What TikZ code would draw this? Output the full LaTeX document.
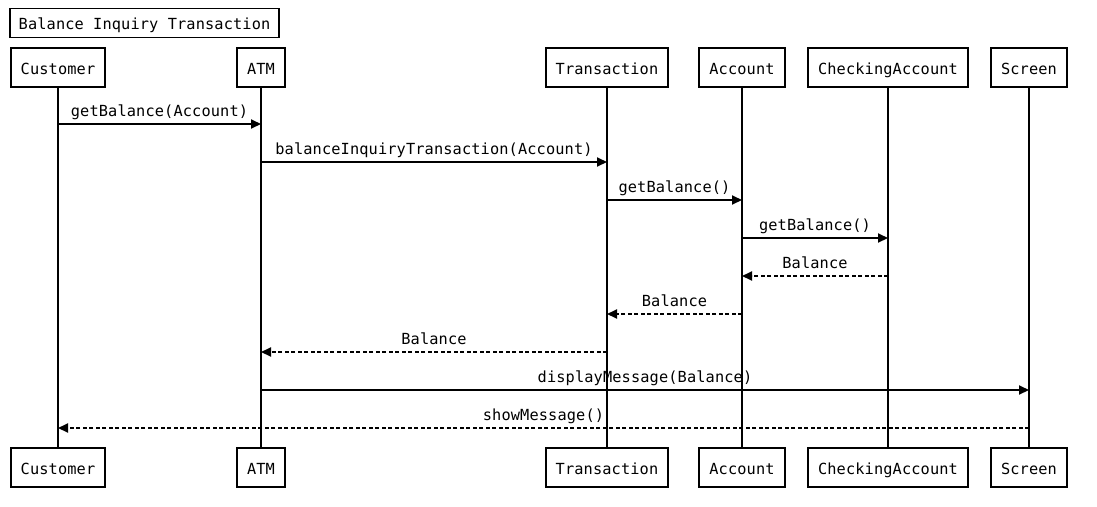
\documentclass[tikz,border=0pt]{standalone}
\usepackage{fontspec}
\newfontfamily\dmono{DejaVu Sans Mono}[LetterSpace=0.8]
\usetikzlibrary{arrows.meta}
\begin{document}
\begin{tikzpicture}[x=1pt,y=-1pt,
  font=\dmono\fontsize{15.3}{18}\selectfont,
  part/.style={draw, line width=2pt, minimum height=39pt, inner xsep=10pt, inner ysep=0pt, text height=14pt, text depth=0pt, fill=white},
  life/.style={line width=2pt},
  msg/.style={line width=2pt, -{Triangle[length=10pt,width=9pt]}},
  ret/.style={msg, dash pattern=on 4pt off 2.5pt},
  lbl/.style={above=4pt, inner sep=0pt, text height=11pt, text depth=3pt}]
\useasboundingbox (0,0) rectangle (1097,506);
\node[draw, line width=1.8pt, minimum width=269pt, minimum height=29pt, inner sep=0pt, text height=13pt, text depth=1pt] (title) at (144.5,23) {Balance Inquiry Transaction};
% top participants
\node[part] (cu) at (58,67) {Customer};
\node[part] (atm) at (261,67) {ATM};
\node[part] (tr) at (607,67) {Transaction};
\node[part] (ac) at (742,67) {Account};
\node[part] (ca) at (888,67) {CheckingAccount};
\node[part] (sc) at (1029,67) {Screen};
% bottom participants
\node[part] (cub) at (58,467) {Customer};
\node[part] (atmb) at (261,467) {ATM};
\node[part] (trb) at (607,467) {Transaction};
\node[part] (acb) at (742,467) {Account};
\node[part] (cab) at (888,467) {CheckingAccount};
\node[part] (scb) at (1029,467) {Screen};
% lifelines
\foreach \a/\b in {cu/cub, atm/atmb, tr/trb, ac/acb, ca/cab, sc/scb}
  \draw[life] (\a.south) -- (\b.north);
% message rows
\coordinate (r1) at (0,124);
\coordinate (r2) at (0,162);
\coordinate (r3) at (0,200);
\coordinate (r4) at (0,238);
\coordinate (r5) at (0,276);
\coordinate (r6) at (0,314);
\coordinate (r7) at (0,352);
\coordinate (r8) at (0,390);
\coordinate (r9) at (0,428);
\draw[msg] (cu |- r1) -- node[lbl] {getBalance(Account)} (atm |- r1);
\draw[msg] (atm |- r2) -- node[lbl] {balanceInquiryTransaction(Account)} (tr |- r2);
\draw[msg] (tr |- r3) -- node[lbl] {getBalance()} (ac |- r3);
\draw[msg] (ac |- r4) -- node[lbl] {getBalance()} (ca |- r4);
\draw[ret] (ca |- r5) -- node[lbl] {Balance} (ac |- r5);
\draw[ret] (ac |- r6) -- node[lbl] {Balance} (tr |- r6);
\draw[ret] (tr |- r7) -- node[lbl] {Balance} (atm |- r7);
\draw[msg] (atm |- r8) -- node[lbl] {displayMessage(Balance)} (sc |- r8);
\draw[ret] (sc |- r9) -- node[lbl] {showMessage()} (cu |- r9);
\end{tikzpicture}
\end{document}
